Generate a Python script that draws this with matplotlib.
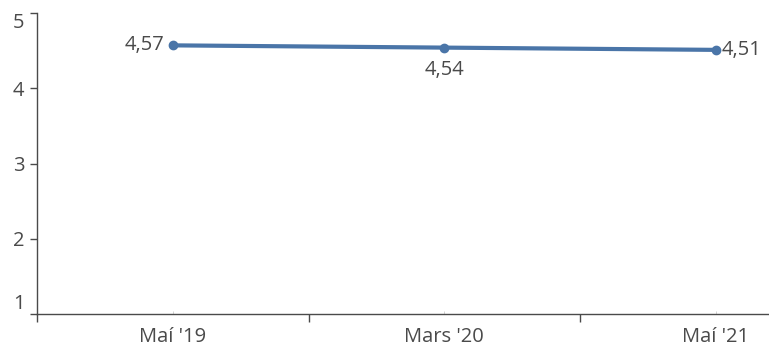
import matplotlib
matplotlib.use("Agg")
import matplotlib.pyplot as plt

categories = ["Maí '19", "Mars '20", "Maí '21"]
values = [4.57, 4.54, 4.51]
yticks = [1, 2, 3, 4, 5]

grey = "#4a4a4a"
blue = "#4a75a8"
fs = 14.5
plt.rcParams["font.family"] = ["Open Sans", "DejaVu Sans"]

W, H = 769, 347
fig = plt.figure(figsize=(W / 100, H / 100), dpi=100)
ax = fig.add_axes([37 / W, 33 / H, 1 - 37 / W, (314 - 13) / H])

xs = list(range(len(categories)))
ax.plot(xs, values, color=blue, linewidth=3, marker="o", markersize=6,
        solid_capstyle="round", zorder=3, clip_on=False)

# value labels: first left, middle below, last right
fmt = lambda v: ("%.2f" % v).replace(".", ",")
ax.annotate(fmt(values[0]), (xs[0], values[0]), xytext=(-6, 0),
            textcoords="offset points", ha="right", va="center",
            fontsize=fs, color=grey)
ax.annotate(fmt(values[1]), (xs[1], values[1]), xytext=(0, -9),
            textcoords="offset points", ha="center", va="top",
            fontsize=fs, color=grey)
ax.annotate(fmt(values[2]), (xs[2], values[2]), xytext=(4, 0),
            textcoords="offset points", ha="left", va="center",
            fontsize=fs, color=grey)

ax.set_ylim(1, 5)
ax.set_yticks(yticks)
ax.set_yticklabels([str(t) for t in yticks])
ax.set_xlim(-0.5, (W - 37) / 271.5 - 0.5)

# band edges as major ticks, labels at band centres
ax.set_xticks([-0.5, 0.5, 1.5])
ax.set_xticklabels([])
ax.set_xticks(xs, minor=True)
ax.set_xticklabels(categories, minor=True)
ax.tick_params(axis="x", which="major", length=6, width=1, color=grey)
ax.tick_params(axis="x", which="minor", length=2, width=0.6, color="#cccccc",
               direction="in", pad=9, labelsize=fs, labelcolor=grey)
ax.tick_params(axis="y", length=5, width=1, color=grey, pad=4,
               labelsize=fs, labelcolor=grey)

# end labels are nudged inside the axis range
ylabels = ax.get_yticklabels()
ylabels[0].set_va("bottom")
ylabels[-1].set_va("top")

for side in ["top", "right"]:
    ax.spines[side].set_visible(False)
for side in ["left", "bottom"]:
    ax.spines[side].set_color(grey)
    ax.spines[side].set_linewidth(1)

fig.savefig("out.png", dpi=100)
